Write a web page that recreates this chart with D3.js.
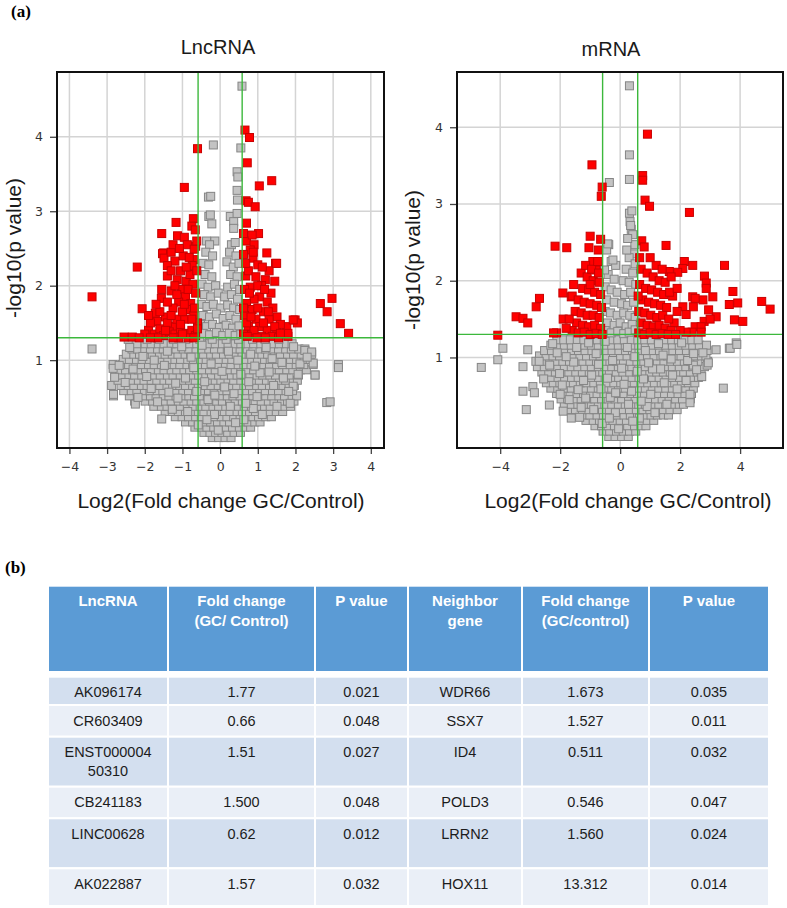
<!DOCTYPE html>
<html><head><meta charset="utf-8">
<script src="https://cdn.jsdelivr.net/npm/d3@7"></script>
<style>body{margin:0;background:#fff}svg{display:block}</style>
</head><body>
<script>
// ---------- DATA ----------
const lncTicksX = [-4,-3,-2,-1,0,1,2,3,4];
const mrnaTicksX = [-4,-2,0,2,4];
const ticksY = [1,2,3,4];
const fcCut = [-0.585, 0.585];
const pCut = 1.301;

// LncRNA gray blob rows: [y, [x...]]
const lncGrayRows = [
[-0.04,[-0.21,-0.04,0.13,0.29]],
[0.03,[-0.43,-0.27,-0.12,0.05,0.2,0.37,0.54]],
[0.10,[-0.67,-0.49,-0.35,-0.17,0.0,0.16,0.33,0.51,0.66,0.81]],
[0.17,[-0.92,-0.73,-0.58,-0.4,-0.25,-0.07,0.1,0.25,0.43,0.6,0.74,0.92,1.06]],
[0.24,[-1.19,-1.01,-0.84,-0.65,-0.5,-0.31,-0.16,0.03,0.18,0.36,0.53,0.69,0.87,1.02,1.21,1.36]],
[0.31,[-1.46,-1.27,-1.11,-0.92,-0.77,-0.58,-0.43,-0.24,-0.09,0.11,0.26,0.45,0.59,0.78,0.94,1.13,1.29,1.49,1.66]],
[0.38,[-1.76,-1.56,-1.41,-1.21,-1.06,-0.87,-0.72,-0.53,-0.38,-0.19,-0.04,0.15,0.3,0.49,0.64,0.83,0.98,1.18,1.33,1.53,1.69,1.87]],
[0.45,[-2.27,-1.99,-1.79,-1.64,-1.45,-1.3,-1.11,-0.96,-0.77,-0.62,-0.43,-0.28,-0.09,0.06,0.25,0.4,0.59,0.74,0.93,1.09,1.28,1.43,1.63,1.79,1.96]],
[0.52,[-2.83,-2.41,-2.19,-2.04,-1.85,-1.7,-1.51,-1.36,-1.17,-1.02,-0.83,-0.68,-0.49,-0.34,-0.15,0.0,0.19,0.34,0.53,0.68,0.87,1.02,1.21,1.37,1.56,1.71,1.91,2.03]],
[0.59,[-2.56,-2.36,-2.21,-2.01,-1.86,-1.67,-1.52,-1.33,-1.18,-0.99,-0.84,-0.65,-0.5,-0.31,-0.16,0.03,0.18,0.37,0.52,0.71,0.86,1.05,1.2,1.39,1.55,1.75,1.92]],
[0.66,[-2.88,-2.63,-2.44,-2.29,-2.09,-1.94,-1.75,-1.6,-1.41,-1.26,-1.07,-0.92,-0.73,-0.58,-0.39,-0.24,-0.05,0.1,0.29,0.44,0.63,0.78,0.97,1.12,1.31,1.47,1.67,1.83,1.97]],
[0.73,[-2.71,-2.51,-2.36,-2.17,-2.02,-1.83,-1.68,-1.49,-1.34,-1.15,-1.0,-0.81,-0.66,-0.47,-0.32,-0.13,0.02,0.21,0.36,0.55,0.7,0.89,1.04,1.23,1.38,1.58,1.74,1.94,2.05]],
[0.80,[-2.79,-2.61,-2.42,-2.27,-2.08,-1.93,-1.74,-1.59,-1.4,-1.25,-1.06,-0.91,-0.72,-0.57,-0.38,-0.23,-0.04,0.11,0.3,0.45,0.64,0.79,0.98,1.13,1.32,1.47,1.67,1.83,2.08,2.52]],
[0.87,[-2.67,-2.51,-2.32,-2.17,-1.98,-1.83,-1.64,-1.49,-1.3,-1.15,-0.96,-0.81,-0.62,-0.47,-0.28,-0.13,0.06,0.21,0.4,0.55,0.74,0.89,1.08,1.23,1.42,1.57,1.77,1.93,2.13,2.29]],
[0.94,[-2.84,-2.59,-2.43,-2.24,-2.09,-1.9,-1.75,-1.56,-1.41,-1.22,-1.07,-0.88,-0.73,-0.54,-0.39,-0.2,-0.05,0.14,0.29,0.48,0.63,0.82,0.97,1.16,1.31,1.5,1.66,1.86,2.02,2.22,2.47,3.14]],
[1.01,[-2.57,-2.41,-2.22,-2.07,-1.88,-1.73,-1.54,-1.39,-1.2,-1.05,-0.86,-0.71,-0.52,-0.37,-0.18,-0.03,0.16,0.31,0.5,0.65,0.84,0.99,1.18,1.33,1.52,1.67,1.87,2.03,2.23,2.39]],
[1.08,[-2.49,-2.29,-2.14,-1.95,-1.8,-1.61,-1.46,-1.27,-1.12,-0.93,-0.78,-0.59,-0.44,-0.25,-0.1,0.09,0.24,0.43,0.58,0.77,0.92,1.11,1.26,1.45,1.6,1.79,1.95,2.15,2.43]],
[1.15,[-3.4,-2.34,-2.19,-2.0,-1.85,-1.66,-1.51,-1.32,-1.17,-0.98,-0.83,-0.64,-0.49,-0.3,-0.15,0.04,0.19,0.38,0.53,0.72,0.87,1.06,1.21,1.4,1.55,1.74,1.89,2.09,2.25]],
[1.22,[-2.21,-1.99,-1.83,-1.64,-1.49,-1.3,-1.15,-0.96,-0.81,-0.62,-0.47,-0.28,-0.13,0.06,0.21,0.4,0.55,0.74,0.89,1.08,1.23,1.42,1.57,1.76,1.91]],
[1.28,[-2.44,-1.94,-1.61,-1.24,-0.91,-0.54,-0.21,0.16,0.49,0.86,1.19,1.56]]
];
const lncGrayExtra = [
[-2.84,0.89],[-2.8,0.77],[-2.83,0.54],[-2.25,0.41],[2.83,0.43],[2.92,0.44],[3.14,0.9],[2.47,0.96],[2.52,0.8],[2.25,1.13],[2.43,1.11],[2.07,0.81],[1.94,0.65],[1.86,0.42],
[-1.83,0.62],[-1.12,0.49],[-0.41,0.71],[0.37,0.55],[1.06,0.83],[1.64,0.97],[-2.31,0.88],[-0.77,1.04],[0.22,1.12],[0.88,0.35],[-0.15,0.27],[-1.48,0.93],[1.42,0.66],[-0.58,0.13],[0.63,0.2],[-2.05,1.05],[2.12,0.95],[-1.27,0.34],[0.05,0.85],[-0.92,0.76],[1.82,0.58],[-1.66,0.44],[0.47,1.0],[-0.32,0.47],[1.22,1.17],[-2.52,0.7],[-1.02,1.18],[0.76,0.71],[1.51,0.38],[-0.05,0.06],[0.27,0.38],[-0.62,0.58],[-1.4,1.12],[2.31,1.04],[-2.18,0.5],[0.98,0.51],[-0.24,0.95],[1.3,0.84],[-1.55,0.21],[0.55,0.81],[-0.86,0.31],[-2.68,0.93],[1.95,1.18],[-0.48,1.2],[0.12,0.64],[-1.18,0.69],[0.81,1.08],[-1.95,0.78],[1.12,0.27],[-0.7,0.9],[0.41,0.16],[-0.14,0.53],[1.68,0.76],[-2.4,1.17],[-1.36,0.57],[0.68,0.42],[-0.35,0.2],[0.92,0.92],[-1.75,1.0],[1.38,1.02],
[0.58,4.68],[-0.18,3.89],[0.55,3.85],[0.45,3.53],[0.47,3.46],[0.45,3.28],[0.46,3.15],[-0.31,3.19],[-0.25,3.2],[-0.3,2.93],[-0.26,2.95],[0.27,2.93],[0.45,2.97],[-0.22,2.83],[0.36,2.86],[0.36,2.77],[-0.36,2.6],[-0.14,2.6],[0.3,2.55],[0.4,2.58],[-0.28,2.55],[-0.38,2.45],[-0.2,2.4],[0.25,2.45],[0.42,2.4],[-0.45,2.3],[-0.3,2.28],[0.18,2.32],[0.35,2.25],[0.5,2.3],[-0.4,2.15],[-0.22,2.12],[0.28,2.15],[0.45,2.12],[-0.48,2.02],[-0.32,1.98],[-0.12,2.0],[0.2,1.98],[0.38,2.02],[0.52,1.95],[-0.42,1.88],[-0.25,1.85],[-0.05,1.9],[0.12,1.85],[0.3,1.88],[0.46,1.82],[-0.5,1.75],[-0.35,1.72],[-0.18,1.75],[0.02,1.7],[0.2,1.74],[0.36,1.7],[0.52,1.68],[-0.45,1.6],[-0.28,1.58],[-0.1,1.62],[0.08,1.56],[0.26,1.6],[0.42,1.55],[-0.52,1.48],[-0.36,1.45],[-0.2,1.48],[-0.02,1.44],[0.16,1.47],[0.33,1.43],[0.5,1.46],[-0.45,1.36],[-0.28,1.34],[-0.1,1.37],[0.07,1.33],[0.24,1.36],[0.4,1.33],[0.55,1.35]
];
const lncRed = [
[-0.6,3.84],[-0.95,3.32],[-1.17,2.85],[-0.71,2.9],[-0.75,2.8],[-1.55,2.7],[-1.13,2.67],[-0.95,2.65],[-0.87,2.55],[-0.65,2.53],[-1.5,2.44],[-0.69,2.49],[-1.53,2.43],[-1.49,2.37],[-1.2,2.33],[-1.4,2.27],[-0.7,2.35],[-0.74,2.27],[-2.2,2.25],[-1.4,2.13],[-1.14,2.08],[-0.9,2.06],[-0.72,2.02],[-3.4,1.85],[-1.56,1.83],[-1.3,1.93],[-1.02,1.95],[-0.92,1.85],[-1.1,1.78],[-0.78,1.76],[-0.82,1.68],[-0.7,1.6],[-0.95,1.55],[-2.07,1.69],[-1.72,1.63],[-1.68,1.52],[-1.45,1.58],[-1.27,1.45],[-2.55,1.31],[-2.33,1.31],
[-1.9,1.4],[-1.75,1.35],[-1.6,1.42],[-1.5,1.33],[-1.35,1.38],[-1.2,1.35],[-1.05,1.42],[-0.9,1.36],[-0.75,1.4],[-0.65,1.33],[-1.15,1.55],[-1.0,1.65],[-1.25,1.7],[-1.4,1.78],[-0.85,1.95],[-0.65,1.9],[-1.2,2.0],[-1.05,2.2],[-0.8,2.15],[-0.62,2.2],[-1.3,2.45],[-1.25,2.55],[-1.4,1.5],[-1.6,1.65],[-1.85,1.5],[-1.15,1.88],[-0.68,1.7],[-0.6,1.5],[-2.0,1.35],[-2.15,1.3],[-1.65,1.3],[-1.1,1.3],[-0.85,1.3],[-0.6,1.42],[-0.98,2.4],[-0.82,2.38],[-1.05,1.48],[-0.75,1.55],[-0.95,1.75],[-1.3,1.6],[-1.55,1.95],[-1.7,1.75],[-1.9,1.6],[-0.62,2.6],[-0.66,2.75],[-1.08,2.5],[-0.9,2.25],[-1.3,2.2],[-1.25,1.3],[-0.7,1.3],[-1.0,1.35],[-1.45,1.4],[-1.85,1.3],
[0.66,4.09],[0.78,3.99],[0.72,3.65],[1.04,3.34],[1.37,3.41],[0.69,3.14],[0.75,3.12],[0.93,3.06],[0.7,2.84],[1.02,2.7],[0.7,2.6],[0.9,2.55],[0.8,2.48],[1.24,2.44],[1.47,2.3],[0.87,2.37],[1.0,2.28],[0.68,2.13],[1.2,2.08],[1.45,2.06],[0.62,2.42],[1.3,2.2],[0.75,2.2],[0.95,2.12],[1.1,2.0],[0.8,1.98],[0.65,1.95],[1.35,1.9],[1.05,1.85],[0.9,1.82],[1.25,1.78],[0.7,1.76],[1.15,1.65],[0.85,1.68],[1.51,1.58],[1.77,1.45],[1.99,1.54],[2.66,1.76],[2.97,1.83],[2.84,1.65],[3.19,1.49],[3.41,1.36],[0.65,1.6],[0.95,1.55],[1.3,1.55],[1.4,1.7],[0.75,1.45],[1.05,1.45],[1.25,1.4],[1.5,1.38],[1.65,1.35],[1.8,1.32],[0.62,1.35],[0.85,1.35],[1.1,1.32],[1.38,1.32],[0.9,1.4],[1.15,1.5],[1.6,1.48],[0.7,1.5],[1.55,1.3],[0.98,1.3],[0.72,1.32],[1.2,1.3],[1.45,1.45],[0.82,1.58],[1.0,1.7],[1.28,1.65],[0.62,1.7],[0.78,1.9],[1.0,2.0],[1.18,1.95],[0.68,2.3],[0.88,2.45],[1.12,2.25],[0.62,2.7],[0.85,2.68],[2.05,1.5],[1.94,1.54],[1.8,1.36],[1.6,1.36],[1.5,2.3]
];

// mRNA gray blob rows
const mrnaGrayRows = [
[-0.03,[-0.38,-0.17,0.05,0.27]],
[0.04,[-0.57,-0.35,-0.12,0.1,0.31,0.52]],
[0.11,[-0.84,-0.62,-0.4,-0.19,0.04,0.25,0.48,0.69,0.86]],
[0.18,[-1.14,-0.9,-0.69,-0.45,-0.24,0.0,0.21,0.45,0.66,0.9,1.12]],
[0.25,[-1.46,-1.22,-1.01,-0.77,-0.56,-0.32,-0.11,0.13,0.34,0.58,0.79,1.03,1.24,1.45,1.61]],
[0.32,[-1.72,-1.49,-1.26,-1.04,-0.81,-0.59,-0.36,-0.14,0.09,0.31,0.54,0.76,0.99,1.21,1.44,1.66,1.9]],
[0.39,[-1.86,-1.63,-1.41,-1.18,-0.96,-0.73,-0.51,-0.28,-0.06,0.17,0.39,0.62,0.84,1.07,1.29,1.52,1.74,1.97,2.11]],
[0.46,[-1.97,-1.75,-1.52,-1.3,-1.07,-0.85,-0.62,-0.4,-0.17,0.05,0.28,0.5,0.73,0.95,1.18,1.4,1.63,1.85,2.08,2.34]],
[0.53,[-2.12,-1.89,-1.67,-1.44,-1.22,-0.99,-0.77,-0.54,-0.32,-0.09,0.13,0.36,0.58,0.81,1.03,1.26,1.48,1.71,1.93,2.16,2.38]],
[0.60,[-2.31,-2.08,-1.86,-1.63,-1.41,-1.18,-0.96,-0.73,-0.51,-0.28,-0.06,0.17,0.39,0.62,0.84,1.07,1.29,1.52,1.74,1.97,2.19,2.44]],
[0.67,[-2.46,-2.23,-2.01,-1.78,-1.56,-1.33,-1.11,-0.88,-0.66,-0.43,-0.21,0.02,0.24,0.47,0.69,0.92,1.14,1.37,1.59,1.82,2.04,2.27,2.49]],
[0.74,[-2.52,-2.3,-2.07,-1.85,-1.62,-1.4,-1.17,-0.95,-0.72,-0.5,-0.27,-0.05,0.18,0.4,0.63,0.85,1.08,1.3,1.53,1.75,1.98,2.2,2.43,2.61]],
[0.81,[-2.61,-2.38,-2.16,-1.93,-1.71,-1.48,-1.26,-1.03,-0.81,-0.58,-0.36,-0.13,0.09,0.32,0.54,0.77,0.99,1.22,1.44,1.67,1.89,2.12,2.34,2.57,2.7]],
[0.88,[-2.76,-2.53,-2.31,-2.08,-1.86,-1.63,-1.41,-1.18,-0.96,-0.73,-0.51,-0.28,-0.06,0.17,0.39,0.62,0.84,1.07,1.29,1.52,1.74,1.97,2.19,2.42,2.64,2.81]],
[0.95,[-2.81,-2.59,-2.36,-2.14,-1.91,-1.69,-1.46,-1.24,-1.01,-0.79,-0.56,-0.34,-0.11,0.11,0.34,0.56,0.79,1.01,1.24,1.46,1.69,1.91,2.14,2.36,2.59,2.92]],
[1.02,[-2.69,-2.47,-2.24,-2.02,-1.79,-1.57,-1.34,-1.12,-0.89,-0.67,-0.44,-0.22,0.01,0.23,0.46,0.68,0.91,1.13,1.36,1.58,1.81,2.03,2.26,2.48,2.71,2.86]],
[1.09,[-2.52,-2.29,-2.07,-1.84,-1.62,-1.39,-1.17,-0.94,-0.72,-0.49,-0.27,-0.04,0.18,0.41,0.63,0.86,1.08,1.31,1.53,1.76,1.98,2.21,2.43,2.66,2.9]],
[1.16,[-2.31,-2.08,-1.86,-1.63,-1.41,-1.18,-0.96,-0.73,-0.51,-0.28,-0.06,0.17,0.39,0.62,0.84,1.07,1.29,1.52,1.74,1.97,2.19,2.42,2.64,2.88]],
[1.23,[-2.11,-1.88,-1.66,-1.43,-1.21,-0.98,-0.76,-0.53,-0.31,-0.08,0.14,0.37,0.59,0.82,1.04,1.27,1.49,1.72,1.94,2.17,2.39,2.6]]
];
const mrnaGrayExtra = [
[-4.63,0.87],[-4.08,0.97],[-3.91,1.12],[-3.08,1.1],[-3.24,0.88],[-3.24,0.56],[-2.91,0.62],[-2.86,0.54],[-3.13,0.32],[-2.36,0.38],[-1.9,0.3],[-1.63,0.21],[3.87,1.19],[3.64,1.12],[3.2,1.1],[2.76,1.06],[2.9,0.9],[2.72,0.75],[3.44,0.6],[2.44,0.9],[2.33,0.52],[2.33,0.41],[3.67,1.12],[3.89,1.17],[2.94,0.93],
[-1.93,0.64],[-1.15,0.47],[-0.42,0.73],[0.38,0.56],[1.08,0.85],[1.7,0.98],[-2.35,0.9],[-0.8,1.05],[0.24,1.13],[0.9,0.36],[-0.16,0.28],[-1.55,0.94],[1.47,0.67],[-0.6,0.14],[0.64,0.21],[-2.1,1.06],[2.25,0.96],[-1.3,0.35],[0.05,0.86],[-0.95,0.77],[1.9,0.59],[-1.7,0.45],[0.49,1.01],[-0.33,0.48],[1.28,1.18],[-2.55,0.72],[-1.05,1.19],[0.78,0.72],[1.56,0.39],[-0.05,0.07],[0.28,0.39],[-0.64,0.59],[-1.45,1.13],[2.45,1.05],[-2.0,0.52],[1.02,0.52],[-0.25,0.96],[1.35,0.85],[-1.35,0.22],[0.57,0.82],[-0.88,0.32],[-2.7,0.95],[2.05,1.19],[-0.5,1.21],[0.13,0.65],[-1.22,0.7],[0.84,1.09],[-2.02,0.79],[1.16,0.28],[-0.72,0.91],[0.42,0.17],[-0.15,0.54],[1.75,0.77],[-2.25,1.18],[-1.4,0.58],[0.7,0.43],[-0.36,0.21],[0.95,0.93],[-1.8,1.01],[1.43,1.03],[2.2,0.7],[2.55,0.84],
[0.31,4.54],[0.31,3.64],[0.31,3.32],[-0.36,3.28],[0.31,2.88],[0.39,2.91],[0.33,2.77],[0.37,2.67],[0.42,2.6],[0.49,2.47],[-0.38,2.47],[-0.45,2.4],[0.25,2.55],[0.45,2.35],[0.3,2.3],[0.5,2.22],[-0.3,2.25],[-0.15,2.2],[0.2,2.15],[0.42,2.1],[-0.4,2.08],[-0.2,2.02],[0.1,2.0],[0.3,1.98],[0.52,1.95],[-0.5,1.92],[-0.3,1.88],[-0.1,1.85],[0.15,1.82],[0.35,1.85],[-0.45,1.75],[-0.2,1.72],[0.05,1.7],[0.25,1.68],[0.45,1.72],[-0.5,1.6],[-0.32,1.58],[-0.1,1.55],[0.12,1.58],[0.32,1.55],[0.5,1.52],[-0.42,1.45],[-0.2,1.42],[0.0,1.45],[0.2,1.4],[0.4,1.43],[-0.5,1.35],[-0.3,1.32],[-0.08,1.34],[0.12,1.31],[0.3,1.33],[0.5,1.36],[0.22,2.4],[0.35,2.72],[-0.41,2.48],[-0.24,2.27],[-0.52,2.14]
];
const mrnaRed = [
[-0.94,3.51],[-0.6,3.22],[-0.63,3.1],[-1.0,2.58],[-0.65,2.54],[-2.17,2.45],[-1.78,2.43],[-1.04,2.43],[-0.73,2.4],[-0.91,2.25],[-0.8,2.14],[-1.91,1.84],[-1.63,1.79],[-2.69,1.77],[-2.8,1.66],[-3.47,1.53],[-3.24,1.51],[-3.08,1.45],[-4.08,1.29],[-1.9,1.5],[-2.12,1.32],[-2.22,1.32],[-1.6,1.8],
[-1.3,2.1],[-1.1,2.05],[-0.9,2.0],[-0.7,1.98],[-1.25,1.9],[-1.05,1.88],[-0.85,1.85],[-0.65,1.82],[-1.4,1.75],[-1.2,1.72],[-1.0,1.7],[-0.78,1.68],[-0.62,1.65],[-1.5,1.6],[-1.3,1.58],[-1.1,1.55],[-0.9,1.55],[-0.7,1.52],[-1.45,1.45],[-1.25,1.42],[-1.05,1.4],[-0.85,1.42],[-0.65,1.38],[-1.6,1.35],[-1.4,1.32],[-1.2,1.33],[-1.0,1.3],[-0.8,1.31],[-0.6,1.3],[-1.7,1.5],[-1.8,1.38],[-1.55,1.95],[-1.15,2.2],[-0.95,2.15],[-0.75,2.25],[-1.0,1.95],[-0.72,2.1],
[0.91,3.91],[0.75,3.37],[0.75,3.31],[0.83,3.05],[0.98,2.97],[2.31,2.89],[0.72,2.52],[0.8,2.44],[1.53,2.46],[2.14,2.25],[2.42,2.2],[2.09,2.16],[3.48,2.2],[1.64,2.12],[1.92,2.11],[2.81,2.06],[2.87,1.97],[2.87,1.9],[2.42,1.79],[2.76,1.75],[3.09,1.79],[3.76,1.86],[3.64,1.69],[3.92,1.71],[4.72,1.73],[5.0,1.63],[3.2,1.53],[3.81,1.49],[4.09,1.47],[2.8,1.47],[2.5,1.4],[2.7,1.4],[2.09,1.66],[2.2,1.56],[1.75,1.8],[1.9,1.6],[1.8,1.45],[2.44,1.66],[2.5,1.77],[2.95,1.62],[3.0,1.5],[2.4,1.33],[2.7,1.33],[2.2,1.33],[2.0,1.35],
[0.7,2.15],[0.9,2.1],[1.1,2.05],[1.3,2.0],[1.5,1.98],[0.65,1.95],[0.85,1.9],[1.05,1.88],[1.25,1.85],[1.45,1.82],[1.65,1.85],[0.75,1.75],[0.95,1.72],[1.15,1.7],[1.35,1.68],[1.55,1.65],[0.62,1.6],[0.82,1.58],[1.02,1.55],[1.22,1.52],[1.42,1.55],[1.62,1.5],[0.7,1.45],[0.9,1.42],[1.1,1.4],[1.3,1.42],[1.5,1.38],[1.7,1.35],[0.62,1.32],[0.8,1.3],[1.0,1.32],[1.2,1.3],[1.4,1.31],[1.6,1.3],[1.85,1.3],[1.2,2.2],[1.0,2.3],[0.65,2.3],[1.4,2.15],[1.7,2.05],[0.6,1.8],[1.9,1.9]
];

// Table
const headers = [["LncRNA"],["Fold change","(GC/ Control)"],["P value"],["Neighbor","gene"],["Fold change","(GC/control)"],["P value"]];
const lncNames = [["AK096174"],["CR603409"],["ENST000004","50310"],["CB241183"],["LINC00628"],["AK022887"]];
const lncFold = ["1.77","0.66","1.51","1.500","0.62","1.57"];
const lncP = ["0.021","0.048","0.027","0.048","0.012","0.032"];
const geneNames = ["WDR66","SSX7","ID4","POLD3","LRRN2","HOX11"];
const geneFold = ["1.673","1.527","0.511","0.546","1.560","13.312"];
const geneP = ["0.035","0.011","0.032","0.047","0.024","0.014"];

// ---------- DRAW ----------
const svg = d3.select("body").append("svg").attr("width",787).attr("height",908);
const SANS = "'Liberation Sans', Arial, sans-serif";
const TICKF = "'DejaVu Sans', Verdana, sans-serif";

function flatten(rows){ const out=[]; rows.forEach(r=>r[1].forEach(x=>out.push([x,r[0]]))); return out; }

function panel(cfg){
  const x = d3.scaleLinear().domain(cfg.xd).range(cfg.xr);
  const y = d3.scaleLinear().domain(cfg.yd).range(cfg.yr);
  const g = svg.append("g");
  const id = "clip"+cfg.id;
  g.append("clipPath").attr("id",id).append("rect")
    .attr("x",cfg.xr[0]).attr("y",cfg.yr[1]).attr("width",cfg.xr[1]-cfg.xr[0]).attr("height",cfg.yr[0]-cfg.yr[1]);
  g.selectAll(".gx").data(cfg.xt).join("line")
    .attr("x1",d=>x(d)).attr("x2",d=>x(d)).attr("y1",cfg.yr[0]).attr("y2",cfg.yr[1])
    .attr("stroke","#d4d4d4").attr("stroke-width",1.5);
  g.selectAll(".gy").data(ticksY).join("line")
    .attr("y1",d=>y(d)).attr("y2",d=>y(d)).attr("x1",cfg.xr[0]).attr("x2",cfg.xr[1])
    .attr("stroke","#d4d4d4").attr("stroke-width",1.5);
  const pts = g.append("g").attr("clip-path",`url(#${id})`);
  const s = 8;
  const gray = flatten(cfg.grayRows).concat(cfg.grayExtra);
  pts.selectAll(".gp").data(gray).join("rect")
    .attr("x",d=>x(d[0])-s/2).attr("y",d=>y(d[1])-s/2).attr("width",s).attr("height",s)
    .attr("fill","#c3c3c3").attr("stroke","#858585").attr("stroke-width",1);
  pts.selectAll(".rp").data(cfg.red).join("rect")
    .attr("x",d=>x(d[0])-s/2).attr("y",d=>y(d[1])-s/2).attr("width",s).attr("height",s)
    .attr("fill","#ff0000").attr("stroke","#c80000").attr("stroke-width",1);
  g.selectAll(".tv").data(fcCut).join("line")
    .attr("x1",d=>x(d)).attr("x2",d=>x(d)).attr("y1",cfg.yr[0]).attr("y2",cfg.yr[1])
    .attr("stroke","#3cb83c").attr("stroke-width",1.4);
  g.append("line").attr("x1",cfg.xr[0]).attr("x2",cfg.xr[1]).attr("y1",y(pCut)).attr("y2",y(pCut))
    .attr("stroke","#3cb83c").attr("stroke-width",1.4);
  g.append("rect").attr("x",cfg.xr[0]).attr("y",cfg.yr[1]).attr("width",cfg.xr[1]-cfg.xr[0]).attr("height",cfg.yr[0]-cfg.yr[1])
    .attr("fill","none").attr("stroke","#111").attr("stroke-width",2);
  const ax = g.append("g").attr("transform",`translate(0,${cfg.yr[0]+1})`)
    .call(d3.axisBottom(x).tickValues(cfg.xt).tickSize(5).tickPadding(8));
  const ay = g.append("g").attr("transform",`translate(${cfg.xr[0]-1},0)`)
    .call(d3.axisLeft(y).tickValues(ticksY).tickSize(6).tickPadding(7).tickFormat(d3.format("d")));
  [ax,ay].forEach(a=>{
    a.select(".domain").remove();
    a.selectAll("line").attr("stroke","#444").attr("stroke-width",1.3);
    a.selectAll("text").attr("font-family",TICKF).attr("font-size",12.5).attr("fill","#333");
  });
  g.append("text").attr("x",cfg.titleX).attr("y",cfg.titleY).attr("text-anchor","middle")
    .attr("font-family",SANS).attr("font-size",20).attr("fill","#1a1a1a").text(cfg.title);
  g.append("text").attr("x",cfg.xlabX).attr("y",508).attr("text-anchor","middle")
    .attr("font-family",SANS).attr("font-size",21).attr("fill","#1a1a1a").text("Log2(Fold change GC/Control)");
  g.append("text").attr("transform",`translate(${cfg.ylabX},${cfg.ylabY}) rotate(-90)`).attr("text-anchor","middle")
    .attr("font-family",SANS).attr("font-size",21).attr("fill","#1a1a1a").text("-log10(p value)");
}

panel({id:"a", xd:[-4.33,4.35], yd:[-0.18,4.87], xr:[57,384], yr:[448,72], xt:lncTicksX,
  grayRows:lncGrayRows, grayExtra:lncGrayExtra, red:lncRed, title:"LncRNA", titleX:218, titleY:54,
  xlabX:221, ylabX:21, ylabY:248});
panel({id:"b", xd:[-5.44,5.43], yd:[-0.18,4.72], xr:[457,783], yr:[448,72], xt:mrnaTicksX,
  grayRows:mrnaGrayRows, grayExtra:mrnaGrayExtra, red:mrnaRed, title:"mRNA", titleX:611, titleY:56,
  xlabX:628, ylabX:420, ylabY:260});

svg.append("text").attr("x",11).attr("y",17).attr("font-family","'Liberation Serif','Times New Roman',serif")
  .attr("font-weight","bold").attr("font-size",17).text("(a)");
svg.append("text").attr("x",5).attr("y",573).attr("font-family","'Liberation Serif','Times New Roman',serif")
  .attr("font-weight","bold").attr("font-size",17).text("(b)");

const colEdges = [48,168,315,408,522,649,769];
const headTop = 585.7, headBot = 672;
const rowEdges = [676.7,705,736.7,786.7,818.3,868.3,906];
const tg = svg.append("g");
for (let c=0;c<6;c++){
  tg.append("rect").attr("x",colEdges[c]).attr("y",headTop).attr("width",colEdges[c+1]-colEdges[c]).attr("height",headBot-headTop)
    .attr("fill","#5b9bd5").attr("stroke","#fff").attr("stroke-width",2);
  headers[c].forEach((t,i)=>{
    tg.append("text").attr("x",(colEdges[c]+colEdges[c+1])/2).attr("y",headTop+20.5+i*19.5).attr("text-anchor","middle")
      .attr("font-family",SANS).attr("font-weight","bold").attr("font-size",15).attr("fill","#fff").text(t);
  });
}
const tableRows = lncNames.map((n,i)=>[n,[lncFold[i]],[lncP[i]],[geneNames[i]],[geneFold[i]],[geneP[i]]]);
tableRows.forEach((row,r)=>{
  const top = rowEdges[r], bot = rowEdges[r+1];
  row.forEach((cell,c)=>{
    tg.append("rect").attr("x",colEdges[c]).attr("y",top).attr("width",colEdges[c+1]-colEdges[c]).attr("height",bot-top)
      .attr("fill", r%2===0 ? "#d3dfef" : "#eaeff7").attr("stroke","#fff").attr("stroke-width",2);
    cell.forEach((t,i)=>{
      tg.append("text").attr("x",(colEdges[c]+colEdges[c+1])/2).attr("y",top+20.5+i*18.5).attr("text-anchor","middle")
        .attr("font-family",SANS).attr("font-size",14.5).attr("fill","#1c1c1c").text(t);
    });
  });
});
</script>
</body></html>
